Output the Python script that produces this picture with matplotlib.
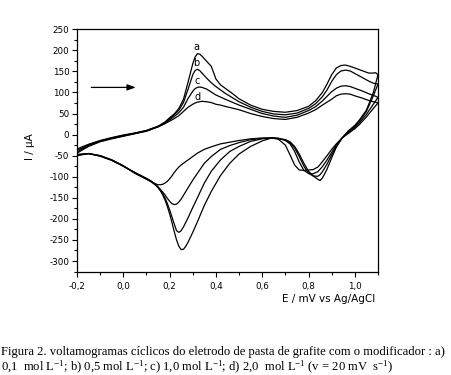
import matplotlib
matplotlib.use("Agg")
import matplotlib.pyplot as plt
from matplotlib.ticker import MultipleLocator, FuncFormatter

plt.rcParams['mathtext.fontset'] = 'custom'
plt.rcParams['mathtext.rm'] = 'Liberation Serif'
plt.rcParams['mathtext.it'] = 'Liberation Serif'

# Forward (anodic) scan potentials, V
x_fwd = [-0.2, -0.15, -0.1, -0.05, 0.0, 0.05, 0.1, 0.15, 0.18, 0.2, 0.22, 0.24, 0.26,
         0.28, 0.3, 0.31, 0.32, 0.33, 0.34, 0.36, 0.38, 0.4, 0.42, 0.44, 0.47, 0.5,
         0.55, 0.6, 0.65, 0.7, 0.75, 0.8, 0.83, 0.86, 0.88, 0.9, 0.92, 0.94, 0.96,
         0.98, 1.0, 1.03, 1.06, 1.08, 1.09, 1.1]
fwd_a = [-34, -23, -14, -7, -1, 4, 10, 20, 30, 40, 49, 62, 84, 125, 168, 184, 192, 191,
         186, 174, 162, 132, 118, 110, 98, 85, 70, 60, 55, 53, 57, 67, 80, 100, 120, 142,
         158, 164, 165, 162, 158, 152, 146, 146, 147, 142]
fwd_b = [-38, -24, -15, -8, -2, 3, 9, 19, 28, 37, 47, 58, 76, 108, 142, 152, 155, 152,
         146, 134, 123, 114, 106, 98, 88, 78, 65, 55, 49, 47, 51, 62, 73, 90, 106, 126,
         142, 151, 153, 151, 145, 136, 127, 122, 121, 120]
fwd_c = [-41, -26, -16, -9, -3, 3, 9, 19, 27, 35, 43, 52, 65, 86, 103, 109, 112, 113,
         112, 108, 101, 94, 89, 84, 77, 70, 60, 50, 44, 41, 46, 57, 66, 80, 91, 102,
         110, 115, 116, 114, 110, 104, 97, 93, 91, 88]
fwd_d = [-44, -28, -17, -10, -4, 2, 8, 18, 26, 32, 38, 45, 55, 65, 72, 75, 77, 78,
         79, 78, 76, 72, 70, 67, 63, 59, 50, 43, 38, 36, 41, 51, 59, 70, 77, 84,
         92, 96, 97, 96, 92, 87, 81, 78, 77, 75]

# Reverse (cathodic) scan potentials, V
x_rev = [1.1, 1.08, 1.05, 1.02, 1.0, 0.97, 0.945, 0.92, 0.9, 0.88, 0.86, 0.85, 0.84,
         0.82, 0.8, 0.78, 0.76, 0.74, 0.72, 0.7, 0.67, 0.64, 0.6, 0.55, 0.5, 0.46,
         0.42, 0.38, 0.35, 0.32, 0.3, 0.28, 0.27, 0.26, 0.25, 0.24, 0.23, 0.22, 0.21,
         0.2, 0.19, 0.18, 0.17, 0.16, 0.15, 0.14, 0.12, 0.1, 0.05, 0.0, -0.05, -0.1,
         -0.15, -0.2]
rev_a = [142, 100, 58, 35, 22, 8, -8, -30, -55, -82, -103, -109, -106, -98, -87, -68,
         -46, -28, -17, -12, -9, -8, -15, -28, -46, -68, -97, -135, -168, -207, -232,
         -255, -265, -272, -273, -265, -250, -230, -208, -188, -170, -155, -143, -133,
         -126, -120, -112, -106, -92, -74, -60, -50, -45, -47]
rev_b = [120, 92, 55, 32, 20, 6, -8, -28, -48, -70, -88, -95, -99, -98, -92, -75,
         -52, -32, -19, -13, -9, -8, -10, -16, -28, -40, -60, -87, -115, -150, -173,
         -197, -208, -219, -228, -232, -228, -212, -195, -178, -163, -150, -140, -132,
         -125, -119, -111, -105, -91, -74, -60, -50, -45, -48]
rev_c = [88, 72, 48, 28, 17, 4, -8, -25, -42, -60, -76, -82, -88, -93, -92, -85,
         -65, -40, -22, -14, -9, -8, -9, -12, -19, -26, -35, -52, -68, -92, -108,
         -126, -135, -144, -153, -160, -165, -166, -164, -158, -151, -143, -136, -130,
         -124, -119, -110, -104, -90, -75, -61, -51, -45, -49]
rev_d = [75, 62, 42, 24, 14, 2, -8, -22, -35, -50, -64, -71, -77, -83, -84, -85,
         -84, -72, -48, -25, -11, -8, -8, -10, -14, -18, -22, -29, -35, -44, -52,
         -60, -64, -68, -72, -77, -83, -90, -98, -105, -111, -115, -118, -119,
         -119, -117, -111, -104, -90, -75, -61, -51, -45, -50]

curves = [(fwd_a, rev_a), (fwd_b, rev_b), (fwd_c, rev_c), (fwd_d, rev_d)]
curve_labels = ['a', 'b', 'c', 'd']
label_pos_x = [0.317, 0.317, 0.32, 0.32]
label_pos_y = [209, 170, 127, 90]

fig = plt.figure(figsize=(4.51, 3.75), dpi=100)
ax = fig.add_axes([0.1707, 0.2747, 0.6674, 0.6473])

for fw, rv in curves:
    ax.plot(x_fwd + x_rev, fw + rv, color='black', lw=0.9, solid_joinstyle='round')

for lab, lx, ly in zip(curve_labels, label_pos_x, label_pos_y):
    ax.text(lx, ly, lab, fontsize=7, ha='center', va='center', family='DejaVu Sans')

ax.annotate('', xy=(0.066, 112), xytext=(-0.15, 112),
            arrowprops=dict(arrowstyle='-|>,head_length=0.5,head_width=0.18',
                            color='black', lw=0.9))

ax.set_xlim(-0.2, 1.1)
ax.set_ylim(-326, 250)
ax.xaxis.set_major_locator(MultipleLocator(0.2))
ax.xaxis.set_minor_locator(MultipleLocator(0.1))
ax.yaxis.set_major_locator(MultipleLocator(50))
ax.yaxis.set_minor_locator(MultipleLocator(25))
ax.xaxis.set_major_formatter(FuncFormatter(lambda v, p: f"{v:.1f}".replace('.', ',').replace('-0,0', '0,0')))
ax.yaxis.set_major_formatter(FuncFormatter(lambda v, p: f"{int(round(v))}"))
ax.tick_params(which='major', direction='out', length=3.5, width=0.8, labelsize=6.3, pad=2)
ax.tick_params(which='minor', direction='out', length=2, width=0.8)
ax.tick_params(axis='x', which='major', pad=4)
for s in ax.spines.values():
    s.set_linewidth(0.9)

fig.text(0.067, 0.608, 'I / µA', rotation=90, fontsize=7.5, ha='center', va='center')
fig.text(0.832, 0.203, 'E / mV vs Ag/AgCl', fontsize=7.5, ha='right', va='center')

cap1 = 'Figura 2. voltamogramas cíclicos do eletrodo de pasta de grafite com o modificador : a)'
cap2 = ('0,1  mol L$^{-1}$; b) 0,5 mol L$^{-1}$; c) 1,0 mol L$^{-1}$; '
        'd) 2,0  mol L$^{-1}$ (v = 20 mV  s$^{-1}$)')
fig.text(0.002, 0.060, cap1, fontsize=9.1, family='Liberation Serif', ha='left', va='center')
fig.text(0.002, 0.020, cap2, fontsize=9.1, family='Liberation Serif', ha='left', va='center')

fig.savefig('out.png', dpi=100, facecolor='white')
